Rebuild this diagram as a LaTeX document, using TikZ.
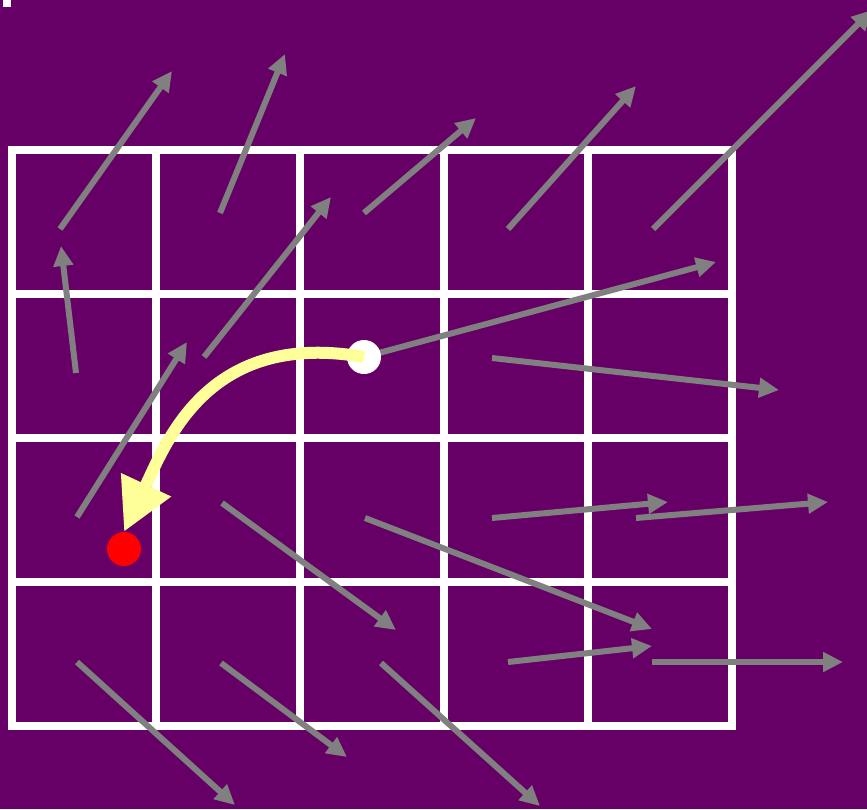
\documentclass[tikz,border=0pt]{standalone}
\usepackage{tikz}
\usetikzlibrary{arrows.meta}
\definecolor{bgpurple}{RGB}{102,0,102}
\definecolor{vecgray}{RGB}{128,128,128}
\definecolor{pathyellow}{RGB}{255,255,153}
\begin{document}
\begin{tikzpicture}[x=1pt,y=-1pt,
  gridline/.style={white, line width=8pt},
  vec/.style={vecgray, line width=6pt, -{Triangle[length=20pt,width=19pt]}},
  dot/.style={circle, inner sep=0pt, minimum size=34pt},
  route/.style={pathyellow, line width=12pt, -{Triangle[length=52pt,width=52pt]}}]
\fill[bgpurple] (0,0) rectangle (867,809);
\useasboundingbox (0,0) rectangle (867,809);
\fill[white] (3,0) rectangle (11,7);
\draw[gridline] (12,150) rectangle (732,726);
\draw[gridline] (156,150) -- (156,726);
\draw[gridline] (300,150) -- (300,726);
\draw[gridline] (444,150) -- (444,726);
\draw[gridline] (588,150) -- (588,726);
\draw[gridline] (12,294) -- (732,294);
\draw[gridline] (12,438) -- (732,438);
\draw[gridline] (12,582) -- (732,582);
\draw[vec] (60,229) -- (172,71);
\draw[vec] (220,213) -- (285,54);
\draw[vec] (364,213) -- (476,118);
\draw[vec] (508,229) -- (636,86);
\draw[vec] (653,229) -- (872,10);
\draw[vec] (76,373) -- (61,246);
\draw[vec] (204,357) -- (331,197);
\draw[vec] (492,358) -- (779,390);
\draw[vec] (77,517) -- (187,342);
\draw[vec] (222,503) -- (396,630);
\draw[vec] (365,518) -- (652,629);
\draw[vec] (492,518) -- (668,502);
\draw[vec] (636,518) -- (828,502);
\draw[vec] (77,662) -- (235,805);
\draw[vec] (221,663) -- (347,757);
\draw[vec] (381,663) -- (540,806);
\draw[vec] (508,662) -- (652,646);
\draw[vec] (652,662) -- (843,662);
\coordinate (origin) at (364,357);
\draw[vec] (origin) -- (716,262);
\node[dot, fill=white] (start) at (origin) {};
\node[dot, fill=red] (goal) at (124,549) {};
\draw[route] (start.center) .. controls (210,330) and (168,438) .. (goal.north);
\end{tikzpicture}
\end{document}
